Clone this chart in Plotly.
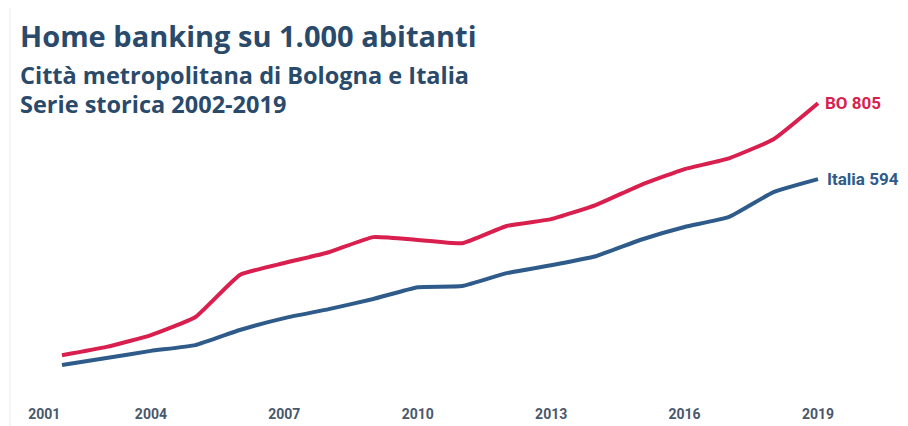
import plotly.graph_objects as go

# Home banking per 1.000 abitanti, 2002-2019
years = list(range(2002, 2020))
bologna = [105, 128, 161, 211, 328, 361, 391, 433, 425, 416, 464, 483, 522, 577, 622, 652, 705, 805]
italia = [78, 97, 117, 133, 175, 208, 233, 261, 294, 297, 333, 355, 380, 425, 461, 489, 558, 594]

tick_vals = [2001.6, 2004, 2007, 2010, 2013, 2016, 2019]
tick_text = ['2001', '2004', '2007', '2010', '2013', '2016', '2019']

RED = '#d81f4e'
BLUE = '#2e5b8a'
TITLE_COLOR = '#2a4a6b'
LABEL_FONT = 'Liberation Sans Narrow, Roboto, sans-serif'
TITLE_FONT = 'Open Sans, Lato, sans-serif'

# la pagina html ha 8px di margine nel body: figura ridotta di conseguenza
W, H = 900, 418
L, T, PH = 0, 25, 360


def px(sx):
    return (sx - 8 - L) / (W - L)


def py(sy):
    return (T + PH - (sy - 8)) / PH


fig = go.Figure()
fig.add_trace(go.Scatter(
    x=years, y=bologna, mode='lines', name='BO',
    line=dict(color=RED, width=4, shape='spline', smoothing=0.4)
))
fig.add_trace(go.Scatter(
    x=years, y=italia, mode='lines', name='Italia',
    line=dict(color=BLUE, width=4, shape='spline', smoothing=0.4)
))

# etichette a fine linea
fig.add_annotation(x=years[-1], y=bologna[-1], text=f'BO {bologna[-1]}',
                   xanchor='left', yanchor='middle', xshift=5, showarrow=False,
                   font=dict(family=LABEL_FONT, size=17, color=RED, weight='bold'))
fig.add_annotation(x=years[-1], y=italia[-1], text=f'Italia {italia[-1]}',
                   xanchor='left', yanchor='middle', xshift=7, showarrow=False,
                   font=dict(family=LABEL_FONT, size=17, color=BLUE, weight='bold'))

# titolo su tre righe
titles = [
    ('Home banking su 1.000 abitanti', 29, 36),
    ('Città metropolitana di Bologna e Italia', 23.5, 75),
    ('Serie storica 2002-2019', 23.5, 104),
]
for text, size, ypx in titles:
    fig.add_annotation(x=px(18), y=py(ypx), xref='paper', yref='paper',
                       yanchor='middle', xanchor='left', showarrow=False,
                       text=text,
                       font=dict(family=TITLE_FONT, size=size, color=TITLE_COLOR,
                                 weight='bold'))

fig.add_shape(type='line', xref='paper', yref='paper',
              x0=px(10), x1=px(10), y0=py(426), y1=py(0),
              line=dict(color='#ececec', width=1))

fig.update_layout(
    width=W, height=H,
    margin=dict(l=L, r=0, t=T, b=H - T - PH),
    paper_bgcolor='white', plot_bgcolor='white',
    showlegend=False,
    xaxis=dict(range=[2000.786, 2021.024], tickvals=tick_vals, ticktext=tick_text,
               showgrid=False, zeroline=False, showline=False, ticks='',
               ticklabelstandoff=11,
               tickfont=dict(family=LABEL_FONT, size=14, color='#4a586b', weight='bold')),
    yaxis=dict(range=[0, 1000], visible=False),
)

fig.write_html('out.html')
